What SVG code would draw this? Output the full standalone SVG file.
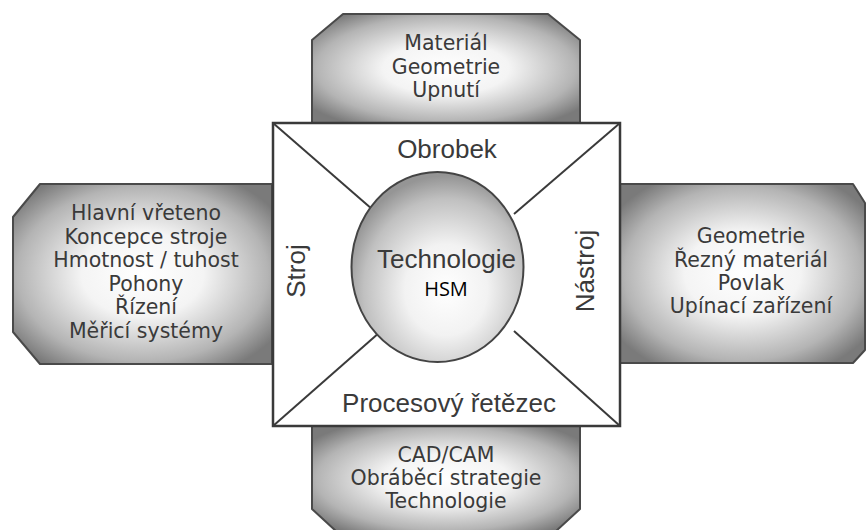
<svg xmlns="http://www.w3.org/2000/svg" width="866" height="530" viewBox="0 0 866 530">
<defs>
<radialGradient id="boxg" cx="0.5" cy="0.5" r="0.62">
<stop offset="0" stop-color="#ffffff"/>
<stop offset="0.38" stop-color="#f4f4f4"/>
<stop offset="0.78" stop-color="#b4b4b4"/>
<stop offset="1" stop-color="#7a7a7a"/>
</radialGradient>
<radialGradient id="circg" cx="0.55" cy="0.62" r="0.6">
<stop offset="0" stop-color="#ffffff"/>
<stop offset="0.4" stop-color="#f2f2f2"/>
<stop offset="0.8" stop-color="#c0c0c0"/>
<stop offset="1" stop-color="#959595"/>
</radialGradient>
</defs>
<style>
.box{fill:url(#boxg);stroke:#4a4a4a;stroke-width:2;stroke-linejoin:round}
.bt{font-family:"DejaVu Sans","Liberation Sans",sans-serif;font-size:20.5px;fill:#3a3a3a;text-anchor:middle}
.ct{font-family:"Liberation Sans",Arial,sans-serif;font-size:26px;fill:#3a3a3a;text-anchor:middle}
.ln{stroke:#3a3a3a;stroke-width:2;fill:none}
</style>
<rect width="866" height="530" fill="#ffffff"/>
<g id="top">
<polygon class="box" points="312,123 312,40 343,14 548,14 580,40 580,123"/>
<text class="bt" x="446" y="50">Materiál</text>
<text class="bt" x="446" y="74">Geometrie</text>
<text class="bt" x="446" y="97">Upnutí</text>
</g>
<g id="left">
<polygon class="box" points="272,184 40,184 13,217 13,332 40,364 272,364"/>
<text class="bt" x="146" y="220">Hlavní vřeteno</text>
<text class="bt" x="146" y="243.5">Koncepce stroje</text>
<text class="bt" x="146" y="267">Hmotnost / tuhost</text>
<text class="bt" x="146" y="290.5">Pohony</text>
<text class="bt" x="146" y="314">Řízení</text>
<text class="bt" x="146" y="337.5">Měřicí systémy</text>
</g>
<g id="right">
<polygon class="box" points="620,184 853,184 865,203 865,350 853,363 620,363"/>
<text class="bt" x="751" y="243">Geometrie</text>
<text class="bt" x="751" y="267">Řezný materiál</text>
<text class="bt" x="751" y="290">Povlak</text>
<text class="bt" x="751" y="313">Upínací zařízení</text>
</g>
<g id="bottom">
<polygon class="box" points="312,426 580,426 580,509 555,532 337,532 312,509"/>
<text class="bt" x="446" y="462">CAD/CAM</text>
<text class="bt" x="446" y="485">Obráběcí strategie</text>
<text class="bt" x="446" y="508">Technologie</text>
</g>
<g id="square">
<rect x="273" y="123" width="347" height="303" fill="#ffffff" stroke="#3a3a3a" stroke-width="2.5"/>
<text class="ct" x="447" y="158">Obrobek</text>
<text class="ct" x="449" y="412">Procesový řetězec</text>
<text class="ct" transform="translate(305,271) rotate(-90)">Stroj</text>
<text class="ct" transform="translate(594,271) rotate(-90)">Nástroj</text>
</g>
<g id="connectors">
<line class="ln" x1="273" y1="123" x2="380" y2="216"/>
<line class="ln" x1="620" y1="123" x2="514" y2="214"/>
<line class="ln" x1="273" y1="426" x2="380" y2="332"/>
<line class="ln" x1="620" y1="426" x2="514" y2="331"/>
</g>
<g id="center">
<ellipse cx="437.5" cy="267" rx="86" ry="95" fill="url(#circg)" stroke="#444444" stroke-width="2"/>
<text class="ct" x="446.5" y="268">Technologie</text>
<text x="446" y="296" font-family="'Open Sans','Noto Sans',sans-serif" font-size="20" fill="#000000" text-anchor="middle">HSM</text>
</g>
</svg>
